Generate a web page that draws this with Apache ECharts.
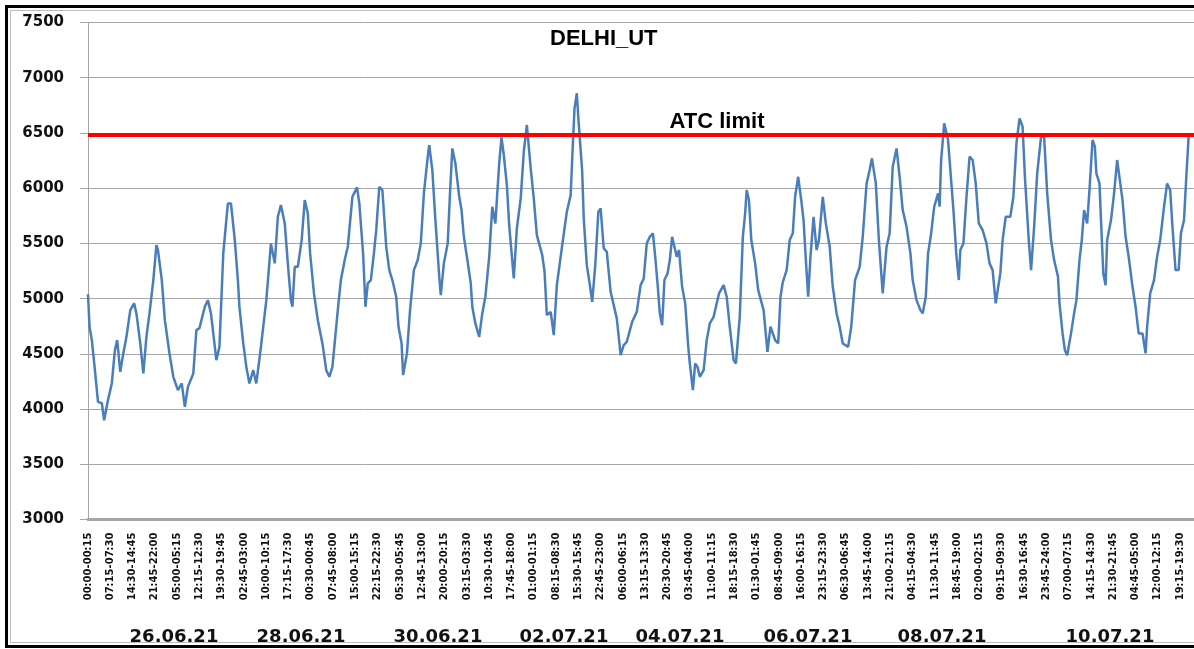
<!DOCTYPE html>
<html>
<head>
<meta charset="utf-8">
<script src="https://cdn.jsdelivr.net/npm/echarts@6/dist/echarts.min.js"></script>
<style>
  html, body { margin: 0; padding: 0; background: #fff; }
  #chart { width: 1194px; height: 649px; }
</style>
</head>
<body>
<div id="chart"></div>
<script>
// 15-min blocks from 26.06.21 00:00 for 15 days
const dayCount = 15;
const blocksPerDay = 96;

// [block index, demand MW]
const demandMW = [
  [0,5040],[2,4745],[5,4624],[9,4352],[13,4065],[18,4053],[21,3899],[26,4081],[31,4234],[35,4533],[38,4624],[42,4337],[46,4506],[50,4654],[55,4896],[60,4957],[63,4866],[68,4594],[72,4322],[76,4654],[80,4866],[85,5168],[89,5485],[91,5440],[96,5168],[100,4805],[106,4504],[111,4292],[117,4171],[122,4232],[126,4020],[130,4201],[137,4322],[141,4715],[145,4733],[152,4926],[156,4986],[160,4866],[167,4443],[171,4563],[176,5409],[182,5862],[186,5862],[191,5530],[195,5168],[197,4926],[202,4594],[206,4382],[210,4232],[215,4352],[219,4232],[225,4563],[232,4986],[238,5500],[243,5319],[247,5741],[251,5847],[256,5681],[260,5319],[264,4986],[266,4926],[269,5288],[273,5288],[278,5530],[282,5892],[286,5772],[289,5409],[294,5047],[299,4805],[305,4594],[310,4352],[314,4292],[318,4382],[325,4896],[329,5168],[334,5349],[338,5470],[344,5922],[350,6007],[353,5862],[358,5400],[361,4926],[364,5138],[368,5168],[372,5409],[375,5620],[379,6013],[383,5983],[388,5470],[392,5258],[396,5168],[401,5017],[404,4745],[408,4594],[410,4307],[415,4504],[419,4896],[424,5258],[429,5349],[433,5500],[437,5953],[442,6284],[444,6390],[448,6164],[452,5711],[457,5198],[459,5032],[463,5319],[468,5500],[471,5953],[474,6360],[478,6225],[483,5922],[486,5802],[489,5560],[493,5379],[498,5138],[500,4926],[504,4775],[509,4654],[513,4866],[517,5017],[522,5379],[526,5832],[530,5681],[535,6225],[538,6460],[541,6300],[545,6028],[548,5666],[551,5424],[554,5183],[558,5636],[563,5908],[567,6330],[571,6572],[576,6179],[580,5908],[584,5575],[591,5394],[594,5243],[597,4851],[602,4880],[606,4669],[610,5122],[617,5485],[623,5786],[628,5937],[630,6269],[633,6723],[636,6859],[638,6632],[643,6149],[645,5726],[649,5303],[653,5122],[656,4971],[660,5303],[664,5786],[667,5817],[671,5455],[675,5424],[680,5062],[684,4941],[688,4821],[693,4488],[697,4579],[701,4609],[708,4790],[714,4880],[719,5122],[723,5180],[727,5500],[731,5560],[735,5591],[738,5379],[741,5138],[744,4866],[747,4760],[750,5168],[754,5228],[757,5349],[760,5560],[763,5470],[766,5379],[769,5440],[773,5107],[777,4957],[781,4563],[783,4413],[787,4171],[790,4413],[793,4382],[796,4292],[801,4352],[805,4624],[809,4775],[814,4835],[817,4926],[821,5047],[827,5122],[831,5017],[835,4745],[840,4443],[843,4413],[848,4835],[852,5560],[855,5772],[857,5983],[860,5892],[863,5530],[868,5319],[872,5077],[879,4896],[884,4518],[888,4745],[894,4624],[898,4594],[901,5017],[904,5150],[909,5258],[913,5530],[917,5591],[920,5922],[924,6103],[928,5892],[931,5711],[934,5349],[937,5017],[940,5379],[944,5741],[948,5440],[951,5530],[956,5922],[960,5681],[965,5470],[969,5107],[974,4866],[978,4745],[982,4594],[989,4563],[993,4745],[998,5168],[1004,5288],[1008,5560],[1013,6043],[1017,6164],[1020,6270],[1025,6043],[1029,5530],[1034,5047],[1039,5470],[1043,5591],[1047,6194],[1052,6360],[1056,6103],[1060,5802],[1065,5650],[1070,5409],[1073,5168],[1078,4986],[1083,4896],[1086,4866],[1090,5017],[1093,5409],[1097,5591],[1101,5832],[1106,5953],[1108,5832],[1110,6255],[1114,6587],[1119,6436],[1123,6073],[1126,5802],[1130,5379],[1133,5168],[1135,5440],[1139,5500],[1143,5922],[1147,6285],[1151,6255],[1155,6043],[1159,5681],[1164,5620],[1169,5500],[1173,5319],[1177,5258],[1181,4957],[1187,5228],[1190,5530],[1194,5741],[1200,5741],[1204,5922],[1208,6406],[1212,6632],[1216,6556],[1219,6103],[1224,5530],[1227,5258],[1231,5650],[1235,6134],[1240,6466],[1244,6466],[1248,5953],[1253,5530],[1257,5349],[1262,5200],[1264,4957],[1268,4685],[1271,4533],[1274,4488],[1279,4685],[1283,4866],[1286,4986],[1290,5349],[1293,5530],[1296,5802],[1300,5681],[1303,5983],[1307,6436],[1310,6375],[1312,6134],[1316,6043],[1318,5711],[1321,5228],[1324,5122],[1326,5530],[1331,5711],[1335,5953],[1339,6255],[1341,6255],[1346,5892],[1350,5560],[1354,5379],[1359,5107],[1363,4926],[1367,4685],[1372,4685],[1376,4504],[1378,4745],[1382,5047],[1387,5168],[1391,5379],[1395,5530],[1400,5832],[1404,6043],[1408,5983],[1411,5650],[1415,5258],[1419,5258],[1422,5591],[1426,5711],[1429,6103],[1432,6466],[1434,6496]
];

const atcLimit = 6480;
const dateLabels = ['26.06.21', '28.06.21', '30.06.21', '02.07.21', '04.07.21', '06.07.21', '08.07.21', '10.07.21'];
const dateLabelX = [174, 301, 438, 564, 680, 808, 942, 1110];

function hhmm(min) {
  const h = Math.floor(min / 60), m = min % 60;
  return String(h).padStart(2, '0') + ':' + String(m).padStart(2, '0');
}
const blockLabels = [];
for (let i = 0; i < dayCount * blocksPerDay; i++) {
  const start = (i % blocksPerDay) * 15;
  blockLabels.push(hhmm(start) + '-' + hhmm(start + 15));
}

const chart = echarts.init(document.getElementById('chart'));
chart.setOption({
  animation: false,
  backgroundColor: '#fff',
  title: {
    text: 'DELHI_UT',
    left: 545,
    top: 23,
    textStyle: { fontFamily: 'Liberation Sans', fontWeight: 'bold', fontSize: 22, color: '#000' }
  },
  grid: { left: 88, right: -3, top: 22.5, bottom: 129.5 },
  xAxis: {
    type: 'category',
    boundaryGap: false,
    data: blockLabels,
    axisLine: { lineStyle: { color: '#a6a6a6', width: 3 } },
    axisTick: { show: false },
    axisLabel: {
      interval: 28,
      rotate: 90,
      margin: 13,
      fontFamily: 'DejaVu Sans',
      fontWeight: 'bold',
      fontSize: 10,
      color: '#111'
    },
    splitLine: { show: false }
  },
  yAxis: {
    type: 'value',
    min: 3000,
    max: 7500,
    interval: 500,
    axisLine: { show: true, lineStyle: { color: '#a6a6a6', width: 1 } },
    axisTick: { show: true, length: 8, lineStyle: { color: '#a6a6a6' } },
    axisLabel: {
      margin: 24,
      formatter: (v) => String(v),
      fontFamily: 'DejaVu Sans',
      fontWeight: 'bold',
      fontSize: 15,
      color: '#111'
    },
    splitLine: { lineStyle: { color: '#a6a6a6', width: 1 } }
  },
  series: [{
    type: 'line',
    data: demandMW,
    showSymbol: false,
    lineStyle: { color: '#4a7ebb', width: 2.5 },
    itemStyle: { color: '#4a7ebb' },
    markLine: {
      silent: true,
      symbol: 'none',
      data: [{ yAxis: atcLimit }],
      lineStyle: { color: '#ff0000', width: 4, type: 'solid' },
      label: {
        formatter: 'ATC limit',
        position: 'insideMiddleTop',
        padding: [0, 0, 0, 152],
        distance: 2,
        fontFamily: 'Liberation Sans',
        fontWeight: 'bold',
        fontSize: 22,
        color: '#000'
      }
    }
  }],
  graphic: [
    {
      type: 'rect',
      shape: { x: 6.5, y: 6.5, width: 1200, height: 640 },
      style: { fill: 'none', stroke: '#000', lineWidth: 3 }
    },
    {
      type: 'rect',
      shape: { x: 10.5, y: 10.5, width: 1200, height: 632 },
      style: { fill: 'none', stroke: '#bdbdbd', lineWidth: 1 }
    }
  ].concat(dateLabels.map((d, i) => ({
    type: 'text',
    x: dateLabelX[i],
    y: 637,
    style: {
      text: d,
      textAlign: 'center', align: 'center',
      textVerticalAlign: 'middle', verticalAlign: 'middle',
      font: 'bold 18px "DejaVu Sans"',
      fill: '#111'
    }
  })))
});
</script>
</body>
</html>
